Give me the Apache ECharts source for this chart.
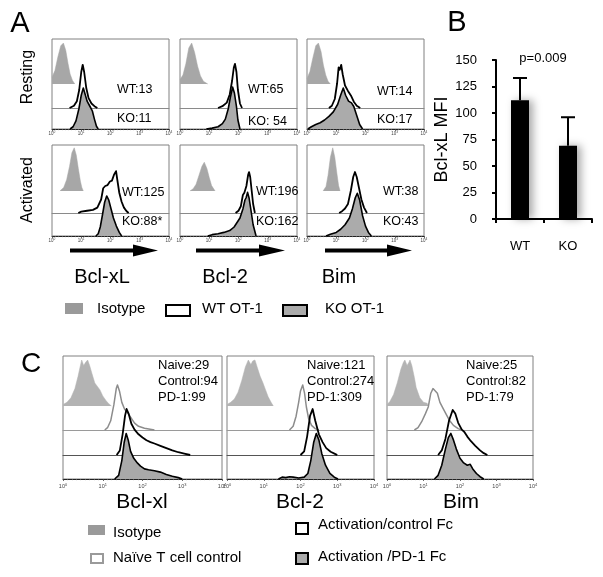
<!DOCTYPE html>
<html><head><meta charset="utf-8">
<script src="https://cdn.jsdelivr.net/npm/echarts@6/dist/echarts.min.js"></script>
<style>html,body{margin:0;padding:0;background:#fff}#c{width:603px;height:577px}</style>
</head><body><div id="c"></div>
<script>
const FONT = '"Liberation Sans", Arial, Helvetica, sans-serif';

// ---------- Panel A histograms: [log10 intensity, % of layer height] ----------
const aRestBclxlIso = [[0,15],[0.1,30],[0.2,60],[0.3,85],[0.39,91],[0.47,75],[0.55,45],[0.62,22],[0.7,8],[0.78,0]];
const aRestBclxlWT  = [[0.6,0],[0.75,5],[0.85,15],[0.93,40],[1.0,80],[1.05,96],[1.1,80],[1.17,45],[1.25,22],[1.35,10],[1.45,4],[1.55,0]];
const aRestBclxlKO  = [[0.62,0],[0.72,5],[0.82,18],[0.92,45],[1.0,75],[1.07,91],[1.13,78],[1.2,62],[1.3,50],[1.38,40],[1.45,22],[1.52,6],[1.58,0]];
const aRestBcl2Iso  = [[0,10],[0.1,20],[0.2,45],[0.3,80],[0.4,91],[0.5,70],[0.6,40],[0.7,18],[0.8,6],[0.95,0]];
const aRestBcl2WT   = [[1.3,0],[1.45,4],[1.6,12],[1.7,30],[1.78,60],[1.84,90],[1.88,98],[1.93,80],[1.98,40],[2.05,10],[2.12,0]];
const aRestBcl2KO   = [[0.9,0],[1.1,2],[1.3,5],[1.45,12],[1.55,22],[1.65,45],[1.72,70],[1.8,93],[1.86,80],[1.93,50],[1.98,20],[2.05,0]];
const aRestBimIso   = [[0,12],[0.1,28],[0.2,58],[0.3,85],[0.39,91],[0.48,72],[0.56,42],[0.64,20],[0.72,6],[0.8,0]];
const aRestBimWT    = [[0.75,0],[0.85,5],[0.95,20],[1.03,55],[1.08,90],[1.12,85],[1.17,96],[1.22,75],[1.3,50],[1.4,38],[1.5,28],[1.6,14],[1.7,5],[1.82,0]];
const aRestBimKO    = [[0.03,0],[0.15,5],[0.3,10],[0.45,14],[0.6,20],[0.75,28],[0.9,38],[1.05,55],[1.15,75],[1.24,91],[1.32,75],[1.42,62],[1.52,58],[1.6,50],[1.7,30],[1.8,10],[1.9,0]];
const aActBclxlIso  = [[0.27,0],[0.4,8],[0.5,25],[0.6,55],[0.68,85],[0.76,96],[0.83,80],[0.9,50],[0.97,22],[1.02,8],[1.07,0]];
const aActBclxlWT   = [[0.9,0],[1.0,3],[1.2,5],[1.4,7],[1.55,12],[1.68,30],[1.75,55],[1.82,60],[1.9,62],[1.98,70],[2.05,72],[2.12,85],[2.19,93],[2.23,75],[2.3,45],[2.38,25],[2.46,12],[2.55,4],[2.62,0]];
const aActBclxlKO   = [[1.5,0],[1.58,5],[1.65,20],[1.72,45],[1.8,75],[1.87,89],[1.94,80],[2.02,60],[2.1,40],[2.2,22],[2.3,8],[2.38,0]];
const aActBcl2Iso   = [[0.34,0],[0.45,5],[0.55,15],[0.65,35],[0.75,55],[0.83,64],[0.92,50],[1.0,30],[1.08,12],[1.2,0]];
const aActBcl2WT    = [[1.9,0],[2.0,5],[2.08,15],[2.15,40],[2.2,45],[2.27,60],[2.33,85],[2.36,91],[2.4,80],[2.45,50],[2.5,20],[2.56,0]];
const aActBcl2KO    = [[0.95,0],[1.1,3],[1.3,5],[1.5,8],[1.7,12],[1.85,20],[1.95,30],[2.05,40],[2.15,60],[2.22,80],[2.26,85],[2.31,97],[2.36,85],[2.42,60],[2.5,25],[2.6,0]];
const aActBimIso    = [[0.55,0],[0.65,10],[0.72,35],[0.8,75],[0.88,96],[0.95,75],[1.02,40],[1.08,12],[1.13,0]];
const aActBimWT     = [[1.1,0],[1.2,4],[1.3,10],[1.4,20],[1.5,50],[1.58,80],[1.64,91],[1.7,80],[1.78,55],[1.86,30],[1.95,12],[2.05,0]];
const aActBimKO     = [[0.65,0],[0.8,4],[1.0,8],[1.15,15],[1.3,25],[1.45,40],[1.55,60],[1.65,85],[1.72,95],[1.8,80],[1.9,45],[2.0,22],[2.1,8],[2.2,0]];

const aMarkers = ['Bcl-xL','Bcl-2','Bim'];
const aRows = ['Resting','Activated'];
const aWtText = ['WT:13','WT:65','WT:14','WT:125','WT:196','WT:38'];
const aKoText = ['KO:11','KO: 54','KO:17','KO:88*','KO:162','KO:43'];
const aLegend = ['Isotype','WT OT-1','KO OT-1'];

// ---------- Panel B ----------
const bCategories = ['WT','KO'];
const bMeans = [112, 69];
const bErrors = [21, 27];
const bPText = 'p=0.009';
const bYName = 'Bcl-xL MFI';

// ---------- Panel C histograms ----------
const cBclxlIso   = [[0,3],[0.1,8],[0.2,18],[0.3,38],[0.38,65],[0.43,85],[0.47,100],[0.52,88],[0.57,95],[0.62,100],[0.67,88],[0.73,70],[0.8,50],[0.87,42],[0.93,35],[1.0,22],[1.08,12],[1.15,5],[1.22,0]];
const cBclxlNaive = [[1.05,0],[1.12,5],[1.2,20],[1.28,55],[1.34,90],[1.37,98],[1.42,85],[1.48,60],[1.55,45],[1.62,38],[1.7,28],[1.8,15],[1.9,8],[2.05,4],[2.3,0]];
const cBclxlCtrl  = [[1.35,0],[1.43,10],[1.5,45],[1.56,85],[1.6,100],[1.65,90],[1.72,68],[1.8,55],[1.9,45],[2.0,38],[2.1,32],[2.2,28],[2.3,25],[2.45,20],[2.6,15],[2.75,10],[2.9,6],[3.05,3],[3.2,0]];
const cBclxlPD1   = [[1.3,0],[1.4,8],[1.48,40],[1.54,80],[1.59,99],[1.64,85],[1.7,60],[1.78,45],[1.87,35],[1.95,28],[2.05,22],[2.15,20],[2.3,18],[2.45,15],[2.6,10],[2.75,6],[2.9,3],[3.0,0]];
const cBcl2Iso    = [[0,3],[0.1,8],[0.2,15],[0.3,30],[0.4,55],[0.5,85],[0.58,100],[0.65,90],[0.7,98],[0.76,100],[0.82,85],[0.9,65],[0.98,50],[1.05,35],[1.12,20],[1.2,8],[1.26,0]];
const cBcl2Naive  = [[1.7,0],[1.8,8],[1.88,30],[1.95,60],[2.0,85],[2.06,98],[2.11,80],[2.16,50],[2.22,25],[2.3,10],[2.4,3],[2.5,0]];
const cBcl2Ctrl   = [[2.0,0],[2.1,8],[2.18,40],[2.26,85],[2.33,100],[2.4,75],[2.5,45],[2.6,28],[2.7,15],[2.82,7],[2.95,2],[3.0,0]];
const cBcl2PD1    = [[1.4,0],[1.5,4],[1.6,3],[1.7,5],[1.8,4],[1.95,2],[2.1,4],[2.2,12],[2.28,40],[2.36,80],[2.43,99],[2.5,85],[2.58,55],[2.68,30],[2.8,12],[2.92,4],[3.02,0]];
const cBimIso     = [[0,3],[0.08,10],[0.18,25],[0.28,50],[0.38,80],[0.45,95],[0.49,100],[0.55,88],[0.6,95],[0.63,100],[0.68,88],[0.75,62],[0.8,40],[0.9,18],[1.0,8],[1.1,6],[1.13,0]];
const cBimNaive   = [[0.75,0],[0.85,5],[0.95,18],[1.05,35],[1.13,50],[1.2,80],[1.26,90],[1.31,93],[1.38,80],[1.45,60],[1.55,45],[1.63,33],[1.72,20],[1.82,10],[1.95,3],[2.05,0]];
const cBimCtrl    = [[1.4,0],[1.5,10],[1.6,35],[1.7,75],[1.8,98],[1.87,90],[1.95,70],[2.05,55],[2.12,50],[2.2,40],[2.3,30],[2.42,20],[2.55,10],[2.65,4],[2.75,0]];
const cBimPD1     = [[1.3,0],[1.4,8],[1.5,30],[1.6,65],[1.68,90],[1.75,99],[1.82,85],[1.9,65],[2.0,45],[2.1,35],[2.2,30],[2.28,32],[2.35,22],[2.45,12],[2.55,5],[2.65,0]];

const cMarkers = ['Bcl-xl','Bcl-2','Bim'];
const cNaive = [29, 121, 25];
const cControl = [94, 274, 82];
const cPD1 = [99, 309, 79];
const cLegend = ['Isotype','Naïve T cell control','Activation/control Fc','Activation /PD-1 Fc'];
const decadeTicks = [0,1,2,3,4];

// ================= build =================
const grids=[], xAxes=[], yAxes=[], series=[], graphics=[];
function addGrid(g, xa, ya){
  grids.push(g); const i = grids.length-1;
  xAxes.push(Object.assign({gridIndex:i}, xa));
  yAxes.push(Object.assign({gridIndex:i}, ya));
  return i;
}
function frame(l, r, t, b, fs, margin){
  addGrid({left:l, top:t, width:r-l, height:b-t, show:true, borderColor:'#808080', borderWidth:1, backgroundColor:'rgba(0,0,0,0)'},
    {type:'value', min:decadeTicks[0], max:decadeTicks[decadeTicks.length-1], interval:1,
     axisLine:{show:true, onZero:false, lineStyle:{color:'#222', width:1}},
     axisTick:{show:true, inside:false, length:2, lineStyle:{color:'#444', width:0.8}},
     minorTick:{show:true, splitNumber:9, length:1.2, lineStyle:{color:'#777', width:0.6}},
     splitLine:{show:false},
     axisLabel:{show:true, showMinLabel:true, showMaxLabel:true, hideOverlap:false, interval:0, margin:margin,
       formatter: v => '{b|10}{s|' + v + '}',
       rich:{b:{fontSize:fs, fontFamily:FONT, color:'#444'}, s:{fontSize:fs*0.72, fontFamily:FONT, color:'#444', verticalAlign:'top'}}}},
    {type:'value', min:0, max:1, show:false});
}
function layer(l, r, base, H, data, st){
  const i = addGrid({left:l, top:base-H, width:r-l, height:H},
    {type:'value', min:0, max:4, show:!!st.baseline,
     axisLine:{show:!!st.baseline, onZero:false, lineStyle:{color:st.baseline||'#000', width:1}},
     axisTick:{show:false}, axisLabel:{show:false}, splitLine:{show:false}},
    {type:'value', min:0, max:100, show:false});
  const s = {type:'line', xAxisIndex:i, yAxisIndex:i, data:data, symbol:'none', showSymbol:false, clip:false,
    smooth:false, silent:true, z:st.z||2,
    lineStyle:{color:st.line||st.fill, width:st.width||0.5, join:'round'}};
  if (st.fill) s.areaStyle = {color:st.fill, opacity:1};
  series.push(s);
}
function txt(x, y, text, size, opt){
  opt = opt||{};
  graphics.push({type:'text', x:x, y:y, rotation:opt.rot||0, silent:true,
    style:{text:text, fill:opt.color||'#000', font:(opt.weight||'normal')+' '+size+'px '+FONT,
      align:opt.align||'left', verticalAlign:opt.va||'middle'}});
}
function rect(x, y, w, h, fill, stroke, lw){
  graphics.push({type:'rect', silent:true, shape:{x:x, y:y, width:w, height:h},
    style:{fill:fill, stroke:stroke||null, lineWidth:lw||0}});
}

// ---------- Panel A ----------
const aBoxX = [[52,169],[180,297],[307,424]];
const aRowY = [{top:39, base:[84,108,129]}, {top:145, base:[191,213,236]}];
const aHist = [
  [[aRestBclxlIso,aRestBclxlWT,aRestBclxlKO],[aRestBcl2Iso,aRestBcl2WT,aRestBcl2KO],[aRestBimIso,aRestBimWT,aRestBimKO]],
  [[aActBclxlIso,aActBclxlWT,aActBclxlKO],[aActBcl2Iso,aActBcl2WT,aActBcl2KO],[aActBimIso,aActBimWT,aActBimKO]]
];
const aWtPos = [[117,90],[248,90],[377,92],[122,193],[256,192],[383,192]];
const aKoPos = [[117,119],[248,122],[377,120],[122,222],[256,222],[383,222]];
const HA = 45;
for (let r=0;r<2;r++){
  for (let c=0;c<3;c++){
    const [l, rr] = aBoxX[c]; const ry = aRowY[r];
    frame(l, rr, ry.top, ry.base[2], 4.5, 2);
    const h = aHist[r][c];
    layer(l, rr, ry.base[0], HA, h[0], {fill:'#a7a7a7', z:2});
    layer(l, rr, ry.base[2], HA, h[2], {fill:'#ababab', line:'#000', width:1.6, z:3});
    layer(l, rr, ry.base[1], HA, h[1], {line:'#000', width:1.8, baseline:'#8a8a8a', z:4});
    const k = r*3+c;
    txt(aWtPos[k][0], aWtPos[k][1], aWtText[k], 12.5);
    txt(aKoPos[k][0], aKoPos[k][1], aKoText[k], 12.5);
  }
}
txt(20, 24, 'A', 29, {align:'center'});
txt(28, 77, aRows[0], 16, {align:'center', rot:Math.PI/2});
txt(28, 190, aRows[1], 16, {align:'center', rot:Math.PI/2});
// arrows
const arrows = [[70,133,158],[196,259,285],[325,387,412]];
arrows.forEach(a=>{
  graphics.push({type:'line', silent:true, shape:{x1:a[0], y1:250.5, x2:a[1]+2, y2:250.5}, style:{stroke:'#000', lineWidth:4}});
  graphics.push({type:'polygon', silent:true, shape:{points:[[a[1],244.5],[a[2],250.5],[a[1],256.5]]}, style:{fill:'#000'}});
});
const aMarkerX = [102, 225, 339];
aMarkers.forEach((m,i)=>txt(aMarkerX[i], 277, m, 20, {align:'center'}));
// legend A
rect(65, 303, 18, 11, '#9a9a9a');
txt(97, 309, aLegend[0], 15);
rect(166, 305, 24, 11, '#fff', '#000', 2);
txt(202, 309, aLegend[1], 15);
rect(283, 305, 24, 11, '#ababab', '#000', 2);
txt(325, 309, aLegend[2], 15);

// ---------- Panel B ----------
const bi = grids.length;
grids.push({left:496, top:60, width:96, height:159});
xAxes.push({gridIndex:bi, type:'category', data:bCategories,
  axisLine:{show:true, lineStyle:{color:'#000', width:2}},
  axisTick:{show:true, length:4, lineStyle:{color:'#000', width:2}},
  axisLabel:{fontSize:13, fontFamily:FONT, color:'#000', margin:21}});
yAxes.push({gridIndex:bi, type:'value', min:0, max:150, interval:25,
  name:bYName, nameLocation:'middle', nameGap:32, nameRotate:90,
  nameTextStyle:{fontSize:18, fontFamily:FONT, color:'#000'},
  axisLine:{show:true, lineStyle:{color:'#000', width:2}},
  axisTick:{show:true, length:4, lineStyle:{color:'#000', width:2}},
  axisLabel:{fontSize:13, fontFamily:FONT, color:'#000', margin:19},
  splitLine:{show:false}});
series.push({type:'bar', xAxisIndex:bi, yAxisIndex:bi, data:bMeans, barWidth:18, z:2,
  itemStyle:{color:'#000', shadowBlur:8, shadowColor:'rgba(0,0,0,0.35)', shadowOffsetX:4}});
series.push({type:'custom', xAxisIndex:bi, yAxisIndex:bi, z:3,
  data: bMeans.map((m,i)=>[i, m, m+bErrors[i]]),
  encode:{x:0, y:[1,2]},
  renderItem:(params, api)=>{
    const p0 = api.coord([api.value(0), api.value(1)]);
    const p1 = api.coord([api.value(0), api.value(2)]);
    return {type:'group', children:[
      {type:'line', shape:{x1:p0[0], y1:p0[1], x2:p1[0], y2:p1[1]}, style:{stroke:'#000', lineWidth:2}},
      {type:'line', shape:{x1:p1[0]-7, y1:p1[1], x2:p1[0]+7, y2:p1[1]}, style:{stroke:'#000', lineWidth:2}}
    ]};
  }});
txt(457, 23, 'B', 29, {align:'center'});
txt(543, 58, bPText, 13, {align:'center'});

// ---------- Panel C ----------
const cBoxX = [[63,222],[227,374],[387,533]];
const cTop = 356, cBase = [406,430,455,479];
const cHist = [[cBclxlIso,cBclxlNaive,cBclxlCtrl,cBclxlPD1],[cBcl2Iso,cBcl2Naive,cBcl2Ctrl,cBcl2PD1],[cBimIso,cBimNaive,cBimCtrl,cBimPD1]];
const HC = 46;
const cTextX = [158, 307, 466];
for (let c=0;c<3;c++){
  const [l, r] = cBoxX[c];
  frame(l, r, cTop, cBase[3], 5.5, 4);
  const h = cHist[c];
  layer(l, r, cBase[0], HC, h[0], {fill:'#b3b3b3', z:2});
  layer(l, r, cBase[3], HC, h[3], {fill:'#a9a9a9', line:'#000', width:1.6, z:3});
  layer(l, r, cBase[1], HC, h[1], {line:'#8c8c8c', width:1.5, baseline:'#9a9a9a', z:4});
  layer(l, r, cBase[2], HC, h[2], {line:'#000', width:1.8, baseline:'#555', z:5});
  txt(cTextX[c], 365, 'Naive:' + cNaive[c], 13);
  txt(cTextX[c], 381, 'Control:' + cControl[c], 13);
  txt(cTextX[c], 397, 'PD-1:' + cPD1[c], 13);
}
txt(31, 364, 'C', 28, {align:'center'});
const cMarkerX = [142, 300, 461];
cMarkers.forEach((m,i)=>txt(cMarkerX[i], 502, m, 21, {align:'center'}));
rect(88, 525, 17, 10, '#9a9a9a');
txt(113, 533, cLegend[0], 15);
rect(91, 554, 12, 9, '#fff', '#9a9a9a', 2);
txt(113, 558, cLegend[1], 15);
rect(296, 523, 12, 11, '#fff', '#000', 2);
txt(318, 525, cLegend[2], 15);
rect(296, 553, 12, 11, '#ababab', '#000', 2);
txt(318, 557, cLegend[3], 15);

const chart = echarts.init(document.getElementById('c'), null, {renderer:'canvas'});
chart.setOption({
  animation:false, backgroundColor:'#fff',
  grid:grids, xAxis:xAxes, yAxis:yAxes, series:series, graphic:graphics
});
</script></body></html>
